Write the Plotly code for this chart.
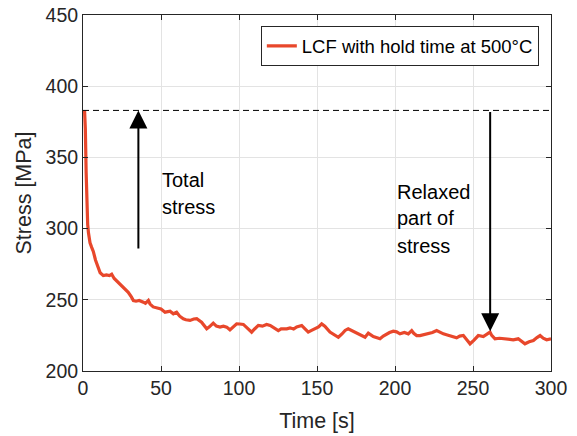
import plotly.graph_objects as go

time_s = [1.0, 1.5, 2.0, 2.5, 3.0, 3.5, 4.5, 5.5, 6.6, 8, 9.8, 11, 13, 15, 17, 18.4, 20, 22, 23.7, 26,
          29, 31, 32.3, 34, 36, 38.7, 40, 41.9, 43, 45, 47.2, 50, 52.6, 55.8, 57.9, 60, 62, 64.3, 66, 68.6,
          71, 72.9, 76, 78, 79.3, 81, 83.5, 85.5, 87.8, 90, 92.1, 94.2, 96, 98.5, 100.5, 102.8, 105, 108.1, 110, 112.4,
          115, 117.7, 120, 122, 125.2, 127, 130.6, 132.7, 135, 137, 140.2, 142, 144.4, 146.5, 148.7, 151, 153, 155, 158.3, 161,
          163.7, 166, 168, 170, 173, 175.4, 178, 180.8, 182.9, 186.1, 188, 190.4, 192.5, 194.7, 196.5, 198.9, 201, 203.2, 206, 208.5,
          210.7, 212, 213.9, 216, 218.5, 221.4, 224, 226.7, 229, 231, 233, 235.3, 237.5, 239.5, 241.5, 243.8, 246, 248.1, 250.5, 253.4,
          256.6, 258.5, 260.9, 262, 264.1, 267, 269.4, 272.5, 275.8, 279, 281, 283.3, 286, 288.7, 291, 293, 295, 297.2, 300]
stress_mpa = [383, 370, 340, 315, 303, 297, 290, 287, 284, 278, 273, 269, 267, 267.5, 267, 268, 265, 263, 261, 258.5,
              255.3, 252, 249.5, 249, 249.5, 248.3, 247.5, 249.5, 247, 245, 244.4, 243.5, 241.3, 242, 240.2, 241.3, 238.5, 236.6, 236, 235.5,
              236.5, 236.7, 234.3, 231.5, 229.6, 231, 233.6, 231.5, 230.8, 231.5, 230.8, 228.9, 231, 233.1, 233, 232.7, 230.5, 227.3, 229.5, 232,
              231.5, 232.7, 232, 230.8, 228.4, 229.6, 229.6, 230.3, 229.5, 231, 232, 230, 227.3, 228.5, 229.6, 231, 233.1, 231.5, 227.3, 225.5,
              223.7, 226, 228.5, 229.6, 228, 226.1, 225, 223.7, 226.6, 224.2, 223.5, 222.6, 224.5, 226.1, 227, 228, 227.5, 226.1, 227, 226.1,
              228.4, 226.5, 224.9, 224.9, 225.5, 226.1, 227, 228.4, 227, 226.1, 225.5, 224.9, 224, 223.3, 224.5, 224.9, 222, 219.1, 221.5, 224.9,
              224.2, 225.5, 227.3, 225, 222.6, 223, 222.6, 222.5, 221.9, 222.6, 221, 219.1, 220.5, 221.4, 223.5, 224.9, 223, 221.9, 222.6]

total_stress_level = 383
total_arrow_t = 35.5
total_arrow_from = 285
relaxed_arrow_t = 261
relaxed_arrow_to = 228

series_name = "LCF with hold time at 500°C"
x_ticks = [0, 50, 100, 150, 200, 250, 300]
y_ticks = [200, 250, 300, 350, 400, 450]

RED = "#E8472B"
DARK = "#262626"
FONT = "Liberation Sans, Arial, Helvetica, sans-serif"

fig = go.Figure()
fig.add_trace(go.Scatter(x=time_s, y=stress_mpa, mode="lines", name=series_name,
                         line=dict(color=RED, width=3.2)))
fig.add_trace(go.Scatter(x=[0, 300], y=[total_stress_level, total_stress_level], mode="lines",
                         line=dict(color="black", width=1, dash="6px,4px"), showlegend=False,
                         hoverinfo="skip"))

# arrows
fig.add_annotation(x=total_arrow_t, y=total_stress_level, ax=total_arrow_t, ay=total_arrow_from,
                   xref="x", yref="y", axref="x", ayref="y", showarrow=True, text="",
                   arrowhead=2, arrowsize=1.8, arrowwidth=2, arrowcolor="black")
fig.add_annotation(x=relaxed_arrow_t, y=relaxed_arrow_to, ax=relaxed_arrow_t, ay=total_stress_level,
                   xref="x", yref="y", axref="x", ayref="y", showarrow=True, text="",
                   arrowhead=2, arrowsize=1.8, arrowwidth=2, arrowcolor="black")

# text labels, one line per annotation
text_lines = [("Total", 50.6, 333.8), ("stress", 50.6, 315.5),
              ("Relaxed", 201, 325.4), ("part of", 201, 307.1), ("stress", 201, 288.1)]
for txt, tx, ty in text_lines:
    fig.add_annotation(x=tx, y=ty, xref="x", yref="y", text=txt, showarrow=False,
                       xanchor="left", yanchor="middle", xshift=-2,
                       font=dict(family=FONT, size=20, color="black"))

axis_common = dict(showline=True, linecolor=DARK, linewidth=1, mirror="ticks",
                   ticks="inside", ticklen=5, tickcolor=DARK, automargin=False,
                   showgrid=True, gridcolor="#E3E3E3", gridwidth=1, zeroline=False,
                   tickfont=dict(family=FONT, size=19.5, color=DARK))

fig.update_xaxes(range=[0, 300], tickvals=x_ticks, title=dict(text="Time [s]", standoff=14,
                 font=dict(family=FONT, size=21.5, color=DARK)), **axis_common)
fig.update_yaxes(range=[200, 450], tickvals=y_ticks, title=dict(text="Stress [MPa]", standoff=8,
                 font=dict(family=FONT, size=21.5, color=DARK)), **axis_common)

fig.update_layout(
    width=577, height=436,
    margin=dict(l=83, r=26, t=15, b=65),
    paper_bgcolor="white", plot_bgcolor="white",
    font=dict(family=FONT, size=18, color=DARK),
    legend=dict(x=0.974, y=0.968, xanchor="right", yanchor="top",
                bgcolor="white", bordercolor=DARK, borderwidth=1,
                font=dict(family=FONT, size=18.5, color="black"),
                itemwidth=30),
    showlegend=True,
)

fig.write_html("out.html")
